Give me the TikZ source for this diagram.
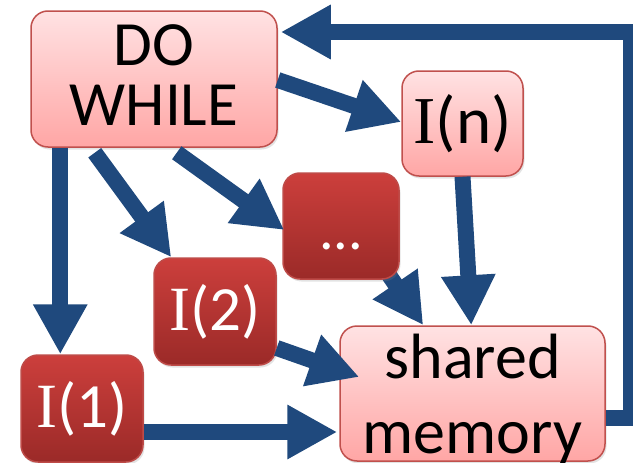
\documentclass[tikz,border=0pt]{standalone}
\usepackage{fontspec}
\setmainfont{Carlito}
\newfontfamily\serifI{Liberation Serif}
\usetikzlibrary{arrows.meta,shadows}
\pgfdeclarelayer{back}
\pgfsetlayers{back,main}
\definecolor{arrblue}{HTML}{1F497D}
\definecolor{ltop}{HTML}{FFE2E3}
\definecolor{lbot}{HTML}{FFA6A5}
\definecolor{lborder}{HTML}{C0504D}
\definecolor{dtop}{HTML}{CC3F3C}
\definecolor{dbot}{HTML}{9B2A28}
\definecolor{dborder}{HTML}{BE4B48}
\tikzset{
  lightbox/.style={draw=lborder, line width=1.5pt, rounded corners=17pt,
    top color=ltop, bottom color=lbot, inner sep=0pt, text=black,
    drop shadow={shadow xshift=1.5pt, shadow yshift=-2.5pt, opacity=0.22}},
  darkbox/.style={draw=dborder, line width=1.5pt, rounded corners=17pt,
    top color=dtop, bottom color=dbot, inner sep=0pt, text=white,
    drop shadow={shadow xshift=1.5pt, shadow yshift=-2.5pt, opacity=0.22}},
  boxtext/.style={inner sep=0pt, align=center, text=black},
  arr/.style={draw=arrblue, line width=16pt, line cap=butt, line join=miter,
    -{Triangle[length=50pt,width=51pt]}}
}
\begin{document}
\begin{tikzpicture}[x=1pt,y=-1pt]
\useasboundingbox (0,0) rectangle (633,463);
% boxes
\node[lightbox, minimum width=246pt, minimum height=136pt] (dw) at (154,79) {};
\node[boxtext, font=\fontsize{63}{60}\selectfont] (dwtext) at ([yshift=4pt]dw.center) {DO\\WHILE};
\node[lightbox, minimum width=121pt, minimum height=105pt,
  font=\fontsize{67}{70}\selectfont] (in) at (462.5,123.5) {{\serifI I}(n)};
\node[darkbox, minimum width=116pt, minimum height=106pt,
  font=\fontsize{58}{60}\selectfont, text height=46pt, text depth=0pt] (dots) at (341,226) {...};
\node[darkbox, minimum width=122pt, minimum height=107pt,
  font=\fontsize{63}{66}\selectfont] (i2) at (215,311.5) {{\serifI I}(2)};
\node[darkbox, minimum width=122pt, minimum height=107pt,
  font=\fontsize{63}{66}\selectfont] (i1) at (82,408.5) {{\serifI I}(1)};
\node[lightbox, minimum width=265pt, minimum height=135pt] (sm) at (472.5,393.5) {};
\node[boxtext, font=\fontsize{64}{75}\selectfont] (smtext) at ([yshift=-5pt]sm.center) {shared\\memory};
% connectors
\begin{pgfonlayer}{back}
\draw[arr] ([xshift=-13pt,yshift=8pt]dots.south east) -- ([xshift=84pt]sm.north west);
\end{pgfonlayer}
\draw[arr] ([xshift=30pt]dw.south west) -- ([xshift=40pt]i1.north west);
\draw[arr] ([xshift=64.5pt,yshift=-5pt]dw.south west) -- ([xshift=18pt]i2.north west);
\draw[arr] ([xshift=146.5pt,yshift=-5pt]dw.south west) -- ([xshift=2pt,yshift=-4pt]dots.west);
\draw[arr] ([yshift=-1pt]dw.east) -- ([yshift=1.5pt]in.west);
\draw[arr] (in.south) -- ([xshift=132pt]sm.north west);
\draw[arr] ([yshift=-36.5pt]i2.east) -- ([xshift=20pt,yshift=16.5pt]sm.west);
\draw[arr] ([yshift=-23.5pt]i1.east) -- ([xshift=-2pt,yshift=-38.5pt]sm.west);
\coordinate (fbc) at (631,32);
\draw[arr] ([yshift=-24.5pt]sm.east) -| (fbc) -- ([xshift=3pt,yshift=47pt]dw.east);
\end{tikzpicture}
\end{document}
